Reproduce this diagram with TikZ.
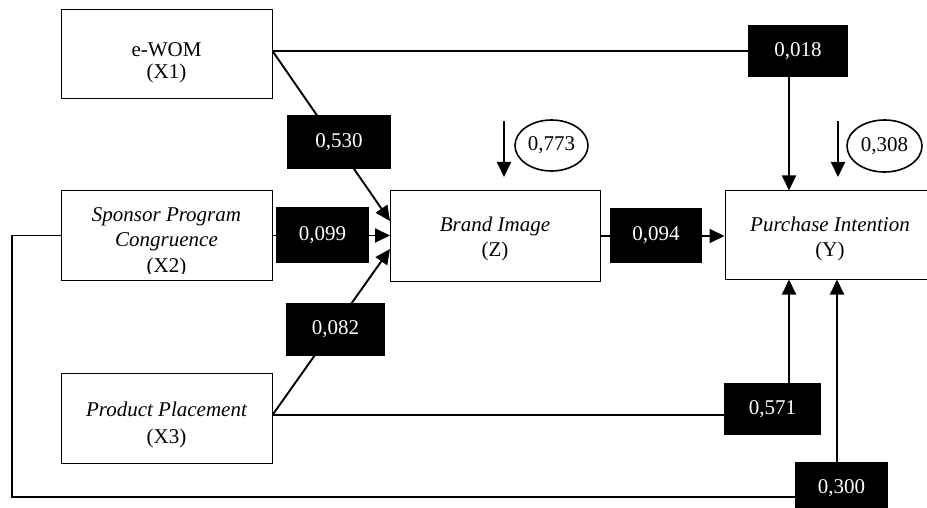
\documentclass[tikz,border=0pt]{standalone}
\usepackage{fontspec}
\setmainfont{Liberation Serif}
\usetikzlibrary{arrows.meta,shapes.geometric,backgrounds}
\begin{document}
\begin{tikzpicture}[x=1pt,y=-1pt,
  box/.style={draw=black,line width=1pt,minimum width=211pt,minimum height=89pt,inner sep=0pt},
  txt/.style={anchor=base,inner sep=0pt,font=\fontsize{21}{24}\selectfont},
  coef/.style={fill=black,text=white,inner sep=0pt,font=\fontsize{21}{24}\selectfont},
  ell/.style={ellipse,draw=black,line width=1.6pt,inner sep=0pt,font=\fontsize{21}{24}\selectfont},
  conn/.style={line width=1.9pt},
  arr/.style={conn,-{Triangle[length=15pt,width=14pt]}}]
\useasboundingbox (0,0) rectangle (927,508);
% boxes
\node[box] (X1) at (166.5,54.5) {};
\node[box] (X2) at (166.5,235.5) {};
\node[box,minimum height=90pt] (X3) at (166.5,418) {};
\node[box,minimum width=210pt,minimum height=90pt] (Z) at (495,236) {};
\node[box,minimum width=210pt] (Y) at (830,235) {};
% texts
\node[txt] (t1a) at (166.5,57) {e-WOM};
\node[txt] (t1b) at (166.5,79) {(X1)};
\node[txt] (t2a) at (166.5,222) {\itshape Sponsor Program};
\node[txt] (t2b) at (166.5,247) {\itshape Congruence};
\begin{scope}
\clip (61,191) rectangle (272,273);
\node[txt] (t2c) at (166.5,272.5) {(X2)};
\end{scope}
\node[txt] (t3a) at (166.5,416) {\itshape Product Placement};
\node[txt] (t3b) at (166.5,443) {(X3)};
\node[txt] (tza) at (495,232) {\itshape Brand Image};
\node[txt] (tzb) at (495,256) {(Z)};
\node[txt] (tya) at (830,231) {\itshape Purchase Intention};
\node[txt] (tyb) at (830,256) {(Y)};
% coefficient boxes
\node[coef,minimum width=104pt,minimum height=54pt] (b530) at (339,142) {0,530};
\node[coef,minimum width=93pt,minimum height=56pt] (b099) at (322.5,235) {0,099};
\node[coef,minimum width=92pt,minimum height=55pt] (b094) at (656,235.5) {0,094};
\node[coef,minimum width=99pt,minimum height=53pt] (b082) at (335.5,329.5) {0,082};
\node[coef,minimum width=100pt,minimum height=52pt] (b018) at (798,51) {0,018};
\node[coef,minimum width=97pt,minimum height=52pt] (b571) at (772.5,409) {0,571};
\node[coef,minimum width=93pt,minimum height=52pt] (b300) at (841.5,488) {0,300};
% ellipses
\node[ell,minimum width=73pt,minimum height=51pt] (e773) at (551.5,145.5) {0,773};
\node[ell,minimum width=75pt,minimum height=52pt] (e308) at (884.5,146) {0,308};
% coordinates
\coordinate (za) at (390,221);
\coordinate (zb) at (390,235.5);
\coordinate (zc) at (390,249);
\coordinate (ytop) at (789,190.5);
\coordinate (ya) at (789,279.5);
\coordinate (yb) at (837,279.5);
\coordinate (r1s) at (504,121);
\coordinate (r1e) at (504,177);
\coordinate (r2s) at (838,121);
\coordinate (r2e) at (838,177);
\coordinate (lp1) at (12,235.5);
\coordinate (lp2) at (12,497);
% connectors
\begin{pgfonlayer}{background}
\draw[conn] ([yshift=3.5pt]X1.east) -- (b018.west);
\draw[arr] (b018.south -| ytop) -- (ytop);
\draw[arr] ([yshift=3.5pt]X1.east) -- (za);
\draw[arr] (X2.east) -- (zb);
\draw[arr] ([yshift=3pt]X3.east) -- (zc);
\draw[conn] ([yshift=3pt]X3.east) -- ([yshift=3pt]X3.east -| b571.west);
\draw[arr] (b571.north -| ya) -- (ya);
\draw[conn] (X2.west) -- (lp1) -- (lp2) -- (lp2 -| b300.west);
\draw[arr] (b300.north -| yb) -- (yb);
\draw[arr] (Z.east) -- (Z.east -| Y.west);
\draw[arr] (r1s) -- (r1e);
\draw[arr] (r2s) -- (r2e);
\end{pgfonlayer}
\end{tikzpicture}
\end{document}
